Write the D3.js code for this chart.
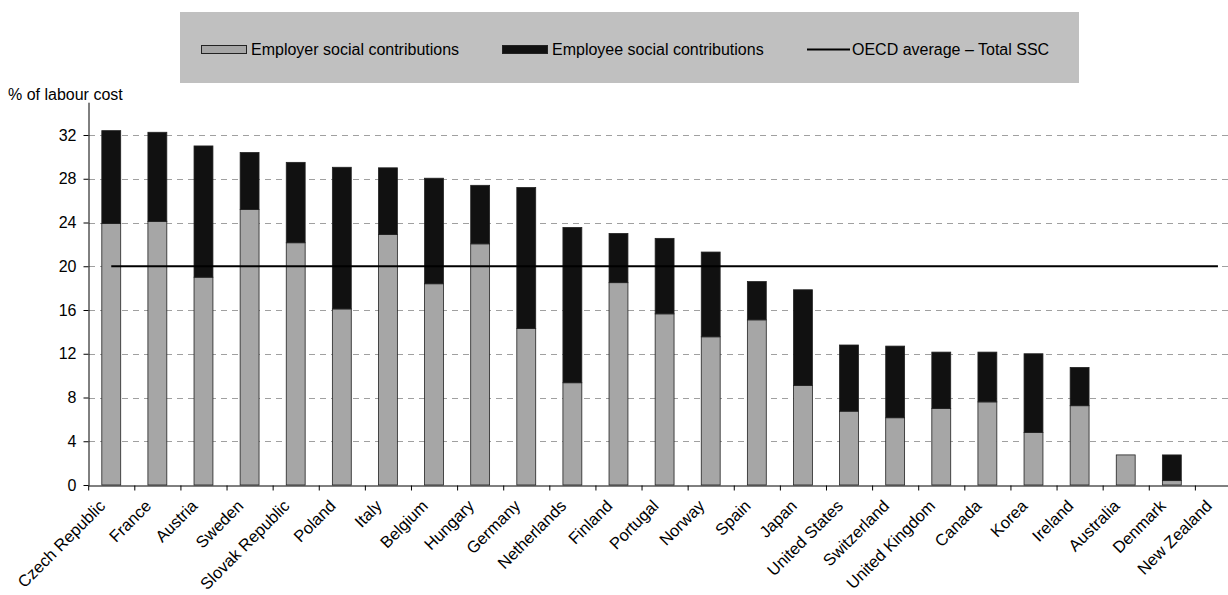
<!DOCTYPE html>
<html>
<head>
  <meta charset="utf-8">
  <title>Social security contributions</title>
  <style>
    body { margin: 0; background: #fff; }
    svg text {
      font-family: 'Liberation Sans', Arial, sans-serif;
      font-size: 16px;
      fill: #000;
    }
  </style>
  <script src="https://cdn.jsdelivr.net/npm/d3@7"></script>
</head>
<body>
<svg id="chart" width="1228" height="595"></svg>

<script>
var countries = ['Czech Republic', 'France', 'Austria', 'Sweden', 'Slovak Republic', 'Poland', 'Italy',
  'Belgium', 'Hungary', 'Germany', 'Netherlands', 'Finland', 'Portugal', 'Norway', 'Spain', 'Japan',
  'United States', 'Switzerland', 'United Kingdom', 'Canada', 'Korea', 'Ireland', 'Australia',
  'Denmark', 'New Zealand'];

// % of labour cost
var employer = [23.9, 24.1, 19.0, 25.2, 22.15, 16.1, 22.9, 18.4, 22.05, 14.3, 9.35, 18.5, 15.65,
  13.55, 15.1, 9.1, 6.75, 6.15, 7.0, 7.6, 4.8, 7.25, 2.75, 0.4, 0];
var employee = [8.5, 8.15, 12.0, 5.2, 7.35, 12.95, 6.1, 9.65, 5.35, 12.9, 14.2, 4.5, 6.9,
  7.75, 3.5, 8.75, 6.05, 6.55, 5.15, 4.55, 7.2, 3.5, 0, 2.35, 0];
var oecdAverage = 20;
var yTicks = [0, 4, 8, 12, 16, 20, 24, 28, 32];

var seriesKeys = ['employer', 'employee'];
var seriesColors = { employer: '#a6a6a6', employee: '#111111' };
var seriesNames = { employer: 'Employer social contributions', employee: 'Employee social contributions' };

var rows = countries.map(function(c, i) {
  return { country: c, employer: employer[i], employee: employee[i] };
});

var svg = d3.select('#chart');

var x = d3.scaleBand()
  .domain(countries)
  .range([88.2, 1241])
  .paddingInner(0.59)
  .paddingOuter(0.295);

// slot boundaries for the category ticks
var xSlots = d3.scaleLinear()
  .domain([0, countries.length])
  .range([88.2, 1241]);

var y = d3.scaleLinear()
  .domain([0, 35])
  .range([485, 102.2]);

// dashed gridlines
svg.append('g')
  .selectAll('line')
  .data(yTicks.filter(function(d) { return d > 0; }))
  .join('line')
  .attr('x1', 89)
  .attr('x2', 1228)
  .attr('y1', function(d) { return Math.round(y(d)) + 0.5; })
  .attr('y2', function(d) { return Math.round(y(d)) + 0.5; })
  .attr('stroke', '#a0a0a0')
  .attr('stroke-width', 1)
  .attr('stroke-dasharray', '6,5');

// stacked bars
var stacked = d3.stack().keys(seriesKeys)(rows);

svg.append('g')
  .selectAll('g')
  .data(stacked)
  .join('g')
  .attr('fill', function(s) { return seriesColors[s.key]; })
  .selectAll('rect')
  .data(function(s) { return s.filter(function(d) { return d[1] - d[0] > 0; }); })
  .join('rect')
  .attr('x', function(d) { return x(d.data.country); })
  .attr('width', x.bandwidth())
  .attr('y', function(d) { return y(d[1]); })
  .attr('height', function(d) { return y(d[0]) - y(d[1]); })
  .attr('stroke', '#222')
  .attr('stroke-width', 0.8);

// OECD average line
svg.append('line')
  .attr('x1', x(countries[0]) + x.bandwidth() / 2)
  .attr('x2', x(countries[countries.length - 1]) + x.bandwidth() / 2)
  .attr('y1', y(oecdAverage))
  .attr('y2', y(oecdAverage))
  .attr('stroke', '#000')
  .attr('stroke-width', 2);

// y axis
var yAxis = svg.append('g')
  .attr('transform', 'translate(88.5,0)')
  .call(d3.axisLeft(y).tickValues(yTicks).tickSize(5).tickSizeOuter(0));
yAxis.selectAll('text').attr('x', -12).style('font-size', '16px').style('font-family', null);
yAxis.selectAll('line, path').attr('stroke', '#000');

svg.append('text')
  .attr('x', 8)
  .attr('y', 100)
  .text('% of labour cost');

// x axis
var xAxis = svg.append('g')
  .attr('transform', 'translate(0,' + (Math.round(y(0)) + 0.5) + ')')
  .call(d3.axisBottom(xSlots).tickValues(d3.range(0, countries.length + 1)).tickFormat('').tickSize(5).tickSizeOuter(0));
xAxis.selectAll('line, path').attr('stroke', '#000');

svg.append('g')
  .selectAll('text')
  .data(countries)
  .join('text')
  .attr('text-anchor', 'end')
  .style('font-size', '16.5px')
  .attr('transform', function(d) {
    return 'translate(' + (x(d) + x.bandwidth() / 2 - 5) + ',507) rotate(-45)';
  })
  .text(function(d) { return d; });

// legend
var legend = svg.append('g');
legend.append('rect')
  .attr('x', 180)
  .attr('y', 12)
  .attr('width', 899)
  .attr('height', 71)
  .attr('fill', '#c0c0c0');

var legendX = { employer: 201, employee: 502 };
seriesKeys.forEach(function(k) {
  legend.append('rect')
    .attr('x', legendX[k] + 0.5)
    .attr('y', 45.5)
    .attr('width', 45)
    .attr('height', 8)
    .attr('fill', seriesColors[k])
    .attr('stroke', '#222')
    .attr('stroke-width', 1);
  legend.append('text')
    .attr('x', legendX[k] + 50)
    .attr('y', 55)
    .text(seriesNames[k]);
});

legend.append('line')
  .attr('x1', 807)
  .attr('x2', 850)
  .attr('y1', 49.5)
  .attr('y2', 49.5)
  .attr('stroke', '#000')
  .attr('stroke-width', 2);
legend.append('text')
  .attr('x', 852)
  .attr('y', 55)
  .text('OECD average \u2013 Total SSC');
</script>
</body>
</html>
